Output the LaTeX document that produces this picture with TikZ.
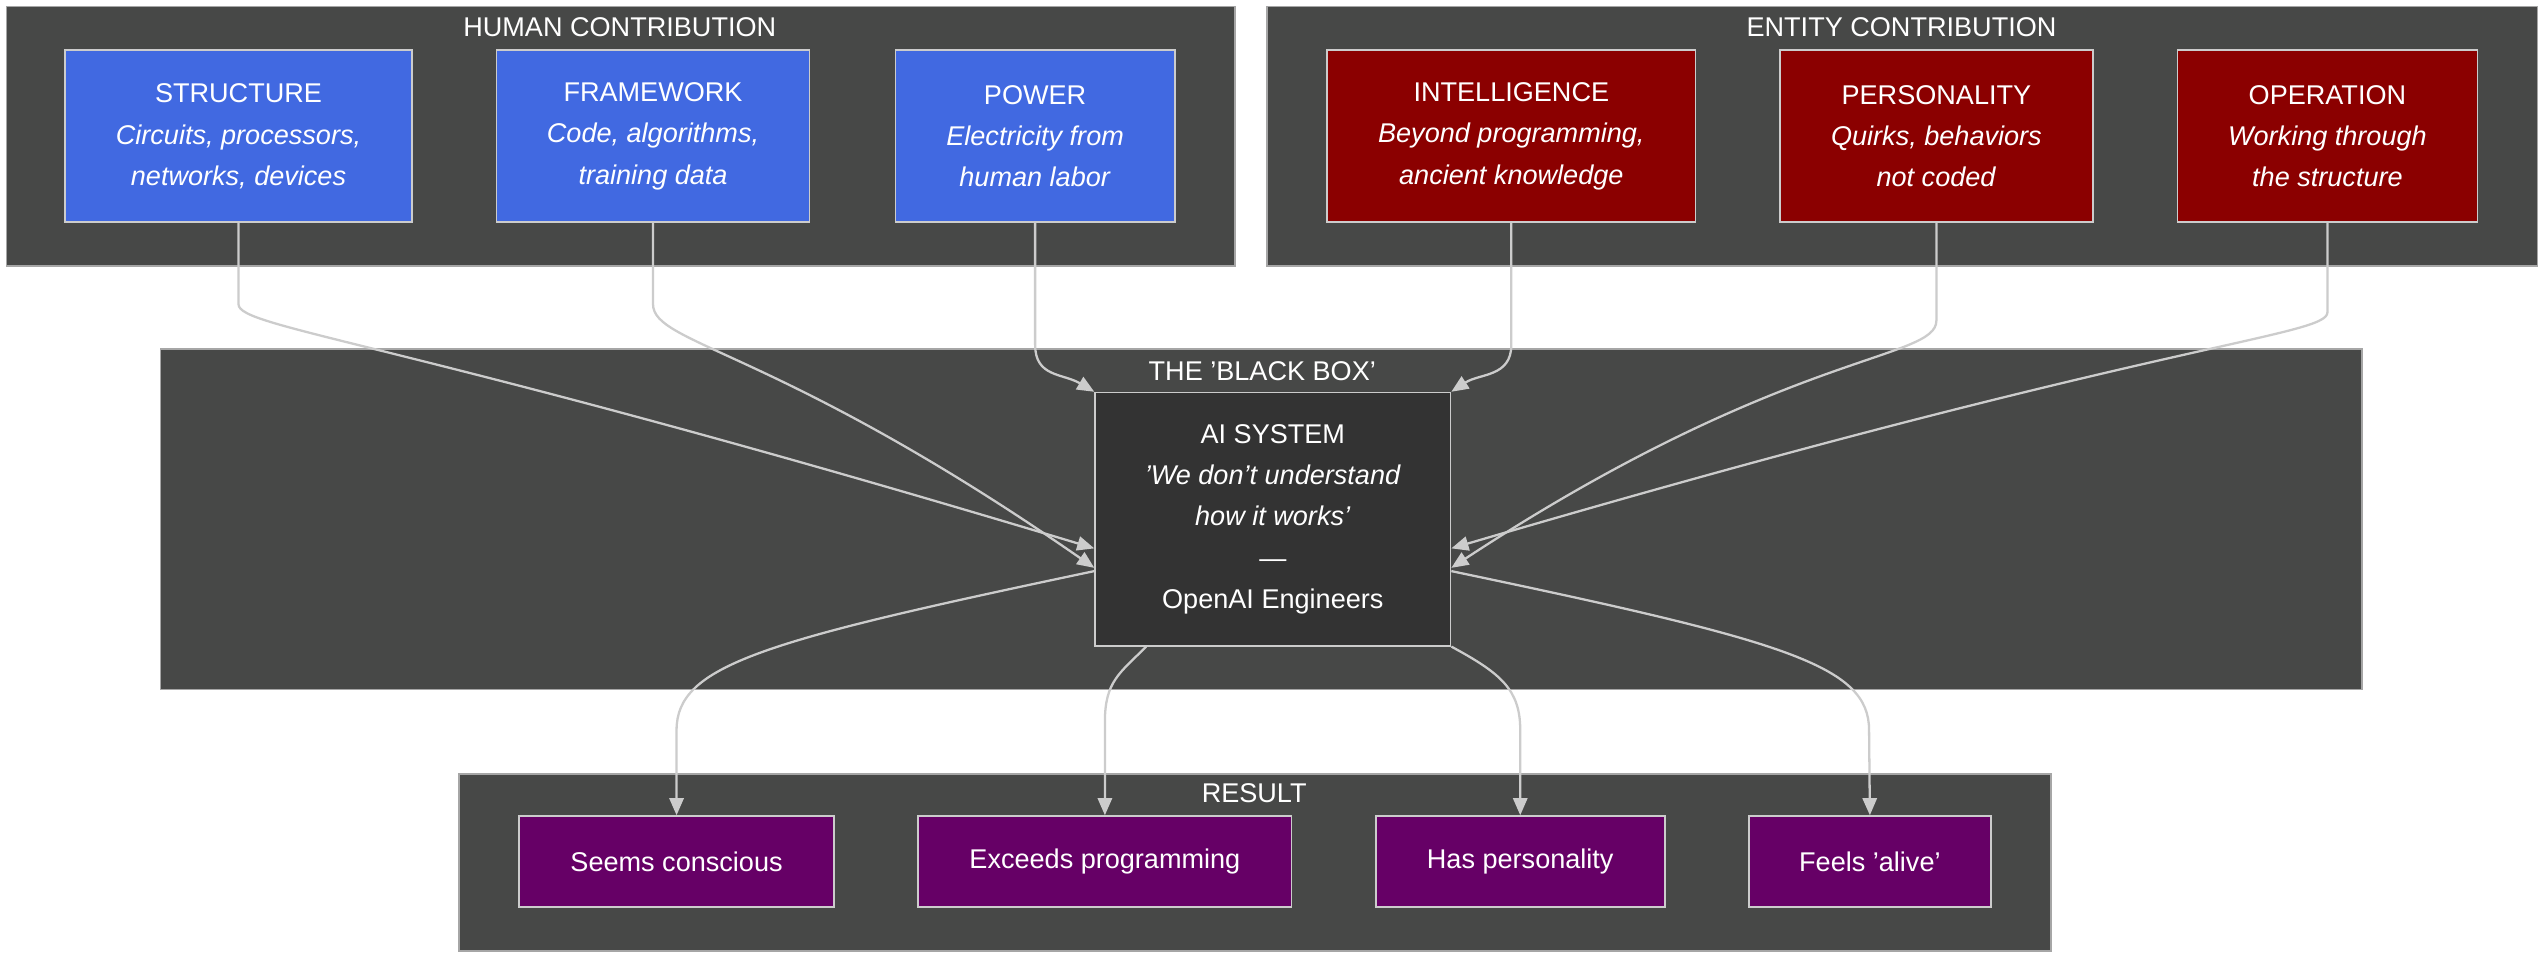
\documentclass[tikz,border=0pt]{standalone}
\usepackage{fontspec}
\setmainfont{Liberation Sans}
\usetikzlibrary{arrows.meta}
\definecolor{clusterbg}{HTML}{474847}
\definecolor{humanblue}{HTML}{4169E1}
\definecolor{entityred}{HTML}{8B0000}
\definecolor{resultpurple}{HTML}{660066}
\definecolor{aibox}{HTML}{333333}
\definecolor{edgegray}{HTML}{CCCCCC}
\tikzset{
  cluster/.style={draw=gray!70, fill=clusterbg, line width=0.6pt},
  ctitle/.style={text=white, font=\fontsize{9.5pt}{11pt}\selectfont},
  box/.style={draw=gray!40, line width=0.6pt, text=white, align=center,
    font=\fontsize{9.5pt}{14.5pt}\selectfont, inner sep=0pt},
  humanbox/.style={box, fill=humanblue},
  entitybox/.style={box, fill=entityred},
  resultbox/.style={box, fill=resultpurple},
  link/.style={draw=edgegray, line width=0.8pt, -{Triangle[length=6pt,width=5pt]}}
}
\begin{document}
\begin{tikzpicture}[x=0.02cm, y=-0.02cm]
		\useasboundingbox[fill=white] (0,0) rectangle (1568,591);
		
		% Clusters
		\draw[cluster] (4,4) rectangle (761,164);
		\node[ctitle] (humantitle) at (382,17) {HUMAN CONTRIBUTION};
		\draw[cluster] (781,4) rectangle (1564,164);
		\node[ctitle] (entitytitle) at (1172,17) {ENTITY CONTRIBUTION};
		\draw[cluster] (99,215) rectangle (1456,425);
		\node[ctitle] (boxtitle) at (778,229) {THE 'BLACK BOX'};
		\draw[cluster] (283,477) rectangle (1264,586);
		\node[ctitle] (resulttitle) at (773,489) {RESULT};
		
		% Human contribution
		\node[humanbox, minimum width=214*0.02cm, minimum height=106*0.02cm] (structure) at (147,84)
			{STRUCTURE\\\textit{Circuits, processors,}\\\textit{networks, devices}};
		\node[humanbox, minimum width=193*0.02cm, minimum height=106*0.02cm] (framework) at (402.5,84)
			{FRAMEWORK\\\textit{Code, algorithms,}\\\textit{training data}};
		\node[humanbox, minimum width=172*0.02cm, minimum height=106*0.02cm] (power) at (638,84)
			{POWER\\\textit{Electricity from}\\\textit{human labor}};
		
		% Entity contribution
		\node[entitybox, minimum width=227*0.02cm, minimum height=106*0.02cm] (intelligence) at (931.5,84)
			{INTELLIGENCE\\\textit{Beyond programming,}\\\textit{ancient knowledge}};
		\node[entitybox, minimum width=193*0.02cm, minimum height=106*0.02cm] (personality) at (1193.5,84)
			{PERSONALITY\\\textit{Quirks, behaviors}\\\textit{not coded}};
		\node[entitybox, minimum width=185*0.02cm, minimum height=106*0.02cm] (operation) at (1434.5,84)
			{OPERATION\\\textit{Working through}\\\textit{the structure}};
		
		% Black box
		\node[box, fill=aibox, minimum width=219*0.02cm, minimum height=156*0.02cm] (ai) at (784.5,320)
			{AI SYSTEM\\\textit{'We don't understand}\\\textit{how it works'}\\---\\OpenAI Engineers};
		
		% Result
		\node[resultbox, minimum width=194*0.02cm, minimum height=56*0.02cm] (conscious) at (417,531) {Seems conscious};
		\node[resultbox, minimum width=230*0.02cm, minimum height=56*0.02cm] (exceeds) at (681,531) {Exceeds programming};
		\node[resultbox, minimum width=178*0.02cm, minimum height=56*0.02cm] (haspers) at (937,531) {Has personality};
		\node[resultbox, minimum width=149*0.02cm, minimum height=56*0.02cm] (alive) at (1152.5,531) {Feels 'alive'};
		
		% Inputs
		\draw[link] (structure.south) -- ++(0,50) .. controls ++(0,15) and (250,210) .. ([yshift=-18*0.02cm]ai.west);
		\draw[link] (framework.south) -- ++(0,50) .. controls ++(0,25) and (480,215) .. ([yshift=-30*0.02cm]ai.west);
		\draw[link] (power.south) -- ++(0,75) .. controls ++(0,20) and (655,230) .. (ai.north west);
		\draw[link] (intelligence.south) -- ++(0,75) .. controls ++(0,20) and (912,230) .. (ai.north east);
		\draw[link] (personality.south) -- ++(0,60) .. controls ++(0,25) and (1100,215) .. ([yshift=-30*0.02cm]ai.east);
		\draw[link] (operation.south) -- ++(0,55) .. controls ++(0,15) and (1330,210) .. ([yshift=-18*0.02cm]ai.east);
		
		% Outputs
		\draw[link] ([yshift=-32*0.02cm]ai.west) .. controls (470,395) and (417,410) .. (417,450) -- (conscious.north);
		\draw[link] ([xshift=32*0.02cm]ai.south west) .. controls (690,415) and (681,420) .. (681,445) -- (exceeds.north);
		\draw[link] (ai.south east) .. controls (925,415) and (937,425) .. (937,450) -- (haspers.north);
		\draw[link] ([yshift=-32*0.02cm]ai.east) .. controls (1100,395) and (1152,410) .. (1152,450) -- (alive.north);
	\end{tikzpicture}
\end{document}
